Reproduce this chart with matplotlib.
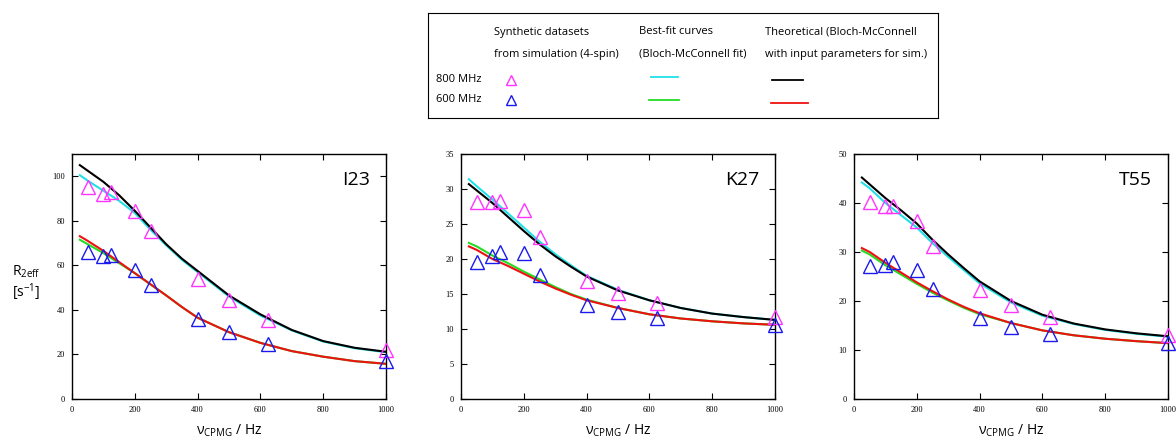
import numpy as np
import matplotlib
matplotlib.use("Agg")
import matplotlib.pyplot as plt

plt.rcParams['font.family'] = ['Open Sans', 'DejaVu Sans']
plt.rcParams['mathtext.fontset'] = 'custom'
plt.rcParams['mathtext.rm'] = 'Open Sans'

# CPMG frequencies of the synthetic data points
nu_pts = [50, 100, 125, 200, 250, 400, 500, 625, 1000]
nu_curve = [25, 50, 100, 150, 200, 250, 300, 350, 400, 500, 600, 700, 800, 900, 1000]

residues = ["I23", "K27", "T55"]
ymax = [110, 35, 50]
yticks = [[0, 20, 40, 60, 80, 100], [0, 5, 10, 15, 20, 25, 30, 35], [0, 10, 20, 30, 40, 50]]

# synthetic datasets (triangles)
sim_800 = [
    [95.2, 92.0, 93.0, 84.5, 75.5, 54.0, 44.5, 35.5, 22.0],
    [28.1, 28.1, 28.3, 27.0, 23.2, 16.9, 15.1, 13.7, 11.7],
    [40.3, 39.4, 39.4, 36.4, 31.2, 22.3, 19.2, 16.8, 13.1],
]
sim_600 = [
    [66.0, 64.0, 64.5, 58.0, 51.0, 36.0, 30.0, 24.5, 17.0],
    [19.6, 20.4, 21.0, 20.8, 17.7, 13.5, 12.4, 11.6, 10.6],
    [27.2, 27.4, 27.9, 26.4, 22.4, 16.5, 14.7, 13.3, 11.4],
]
# best-fit curves
fit_800 = [
    [100.5, 98.0, 93.5, 89.0, 83.5, 76.0, 69.0, 62.5, 57.0, 46.0, 37.5, 30.8, 25.8, 22.8, 21.0],
    [31.4, 30.4, 28.5, 26.5, 24.5, 22.5, 20.7, 19.1, 17.6, 15.6, 14.1, 13.0, 12.2, 11.7, 11.3],
    [44.2, 43.0, 40.0, 37.5, 35.0, 31.8, 29.0, 26.3, 23.6, 19.7, 17.0, 15.3, 14.1, 13.3, 12.7],
]
fit_600 = [
    [71.5, 69.5, 65.5, 61.0, 56.5, 51.5, 46.5, 41.3, 36.5, 30.0, 25.2, 21.5, 19.0, 17.0, 15.8],
    [22.3, 21.8, 20.5, 19.4, 18.2, 17.1, 16.0, 15.0, 14.2, 13.0, 12.1, 11.5, 11.1, 10.8, 10.6],
    [30.3, 29.5, 27.3, 25.4, 23.5, 21.7, 20.1, 18.6, 17.3, 15.5, 14.0, 13.0, 12.3, 11.8, 11.4],
]
# theoretical curves
theo_800 = [
    [105.0, 102.5, 97.5, 91.5, 84.5, 77.0, 69.5, 63.0, 57.5, 46.5, 38.0, 31.0, 26.0, 23.0, 21.2],
    [30.7, 29.8, 28.0, 26.0, 24.0, 22.1, 20.4, 18.9, 17.5, 15.5, 14.1, 13.0, 12.2, 11.7, 11.3],
    [45.2, 43.8, 41.0, 38.5, 35.8, 32.5, 29.5, 26.7, 24.0, 20.0, 17.2, 15.4, 14.2, 13.4, 12.8],
]
theo_600 = [
    [73.1, 71.0, 66.5, 61.5, 56.5, 51.5, 46.5, 41.3, 36.5, 30.0, 25.2, 21.5, 19.0, 17.0, 15.8],
    [21.8, 21.3, 20.0, 19.0, 17.9, 16.8, 15.8, 14.9, 14.1, 13.0, 12.1, 11.5, 11.1, 10.8, 10.6],
    [30.8, 30.0, 27.8, 25.8, 23.8, 22.0, 20.3, 18.8, 17.5, 15.5, 14.0, 13.0, 12.3, 11.8, 11.4],
]

fig = plt.figure(figsize=(11.76, 4.45), dpi=100)

lefts = [72, 461, 854]
for i in range(3):
    ax = fig.add_axes([lefts[i] / 1176, 1 - 399 / 445, 314 / 1176, 245 / 445])
    ax.plot(nu_curve, fit_800[i], color='#22e0e8', lw=1.5, zorder=2)
    ax.plot(nu_curve, theo_800[i], color='black', lw=1.5, zorder=3)
    ax.plot(nu_curve, fit_600[i], color='#22dd22', lw=1.5, zorder=2)
    ax.plot(nu_curve, theo_600[i], color='#ee1111', lw=1.5, zorder=3)
    ax.plot(nu_pts, sim_800[i], ls='none', marker='^', ms=10, mfc='none',
            mec='#ff33ff', mew=1.0, zorder=4, clip_on=False)
    ax.plot(nu_pts, sim_600[i], ls='none', marker='^', ms=10, mfc='none',
            mec='#1a1aee', mew=1.0, zorder=4, clip_on=False)
    ax.set_xlim(0, 1000)
    ax.set_ylim(0, ymax[i])
    ax.set_xticks([0, 200, 400, 600, 800, 1000])
    ax.set_yticks(yticks[i])
    ax.tick_params(direction='in', top=True, right=True, length=4, width=0.8,
                   labelsize=6, pad=5)
    for lab in ax.get_xticklabels() + ax.get_yticklabels():
        lab.set_family('Liberation Serif')
    for sp in ax.spines.values():
        sp.set_linewidth(1.0)
    ax.text(0.95, 0.93, residues[i], transform=ax.transAxes, ha='right', va='top',
            fontsize=14)
    ax.set_xlabel(r'$\mathregular{\nu_{CPMG}}$ / Hz', fontsize=10, labelpad=6)

fig.text(12 / 1176, 1 - 272 / 445, r'$\mathregular{R_{2eff}}$', fontsize=10, va='center')
fig.text(12 / 1176, 1 - 292 / 445, r'$\mathregular{[s^{-1}]}$', fontsize=10, va='center')

# legend box
lg = fig.add_axes([428 / 1176, 1 - 118 / 445, 510 / 1176, 105 / 445])
lg.set_xlim(428, 938)
lg.set_ylim(118, 13)
lg.set_xticks([])
lg.set_yticks([])
for sp in lg.spines.values():
    sp.set_linewidth(0.8)
fs = 8
lg.text(494, 32, "Synthetic datasets", fontsize=fs, va='center')
lg.text(494, 54, "from simulation (4-spin)", fontsize=fs, va='center')
lg.text(639, 32, "Best-fit curves", fontsize=fs, va='center')
lg.text(639, 54, "(Bloch-McConnell fit)", fontsize=fs, va='center')
lg.text(765, 32, "Theoretical (Bloch-McConnell", fontsize=fs, va='center')
lg.text(765, 54, "with input parameters for sim.)", fontsize=fs, va='center')
lg.text(436, 80, "800 MHz", fontsize=fs, va='center')
lg.text(436, 100, "600 MHz", fontsize=fs, va='center')
lg.plot([511], [80], ls='none', marker='^', ms=7, mfc='none', mec='#ff33ff', mew=1.0)
lg.plot([511], [100], ls='none', marker='^', ms=7, mfc='none', mec='#1a1aee', mew=1.0)
lg.plot([651, 678], [77, 77], color='#22e0e8', lw=1.3)
lg.plot([649, 679], [100, 100], color='#22dd22', lw=1.3)
lg.plot([772, 803], [80, 80], color='black', lw=1.3)
lg.plot([771, 808], [103, 103], color='#ee1111', lw=1.3)

fig.savefig("out.png", dpi=100)
